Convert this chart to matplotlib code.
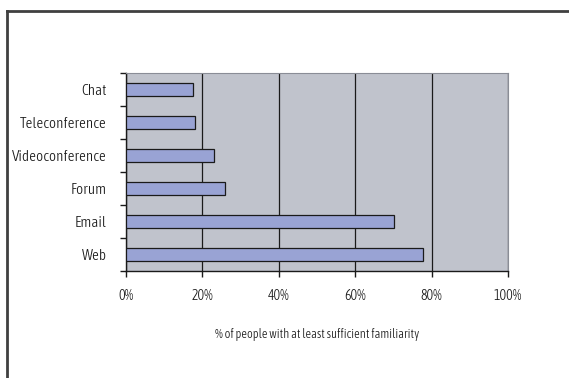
import matplotlib.pyplot as plt
import matplotlib.ticker as ticker
from matplotlib.lines import Line2D
from matplotlib import font_manager

categories = ["Web", "Email", "Forum", "Videoconference", "Teleconference", "Chat"]
familiarity = [77.8, 70.2, 25.8, 23.0, 18.1, 17.6]
xticks = [0, 20, 40, 60, 80, 100]

# pick a narrow face if one is installed (the original uses a narrow, light font)
narrow = [f.fname for f in font_manager.fontManager.ttflist
          if ("Condensed" in f.fname or "Narrow" in f.fname)
          and not any(w in f.fname for w in ("Bold", "Oblique", "Italic", "Black",
                                              "Medium", "Semi", "Thin", "Extra"))]
light = sorted(p for p in narrow if "Light" in p)
regular = sorted(p for p in narrow if "Light" not in p)
font_path = (light or regular or [None])[0]
if font_path:
    label_font = font_manager.FontProperties(fname=font_path)
else:
    label_font = font_manager.FontProperties(family="Lato")

fig = plt.figure(figsize=(5.69, 3.78), dpi=100)
# outer frame: only the left and top edges fall inside the image
fx = 7 / 569
fy = 1 - 10.5 / 378
fig.lines.append(Line2D([fx, fx], [0, fy], transform=fig.transFigure,
                        color="#404040", linewidth=2.0))
fig.lines.append(Line2D([fx, 1], [fy, fy], transform=fig.transFigure,
                        color="#404040", linewidth=2.0))

ax = fig.add_axes([126 / 569, 1 - 271 / 378, (508 - 126) / 569, (271 - 73) / 378])
ax.set_facecolor("#c0c3cc")

y = list(range(len(categories)))
ax.barh(y, familiarity, height=0.38, color="#99a3d4", edgecolor="#1a1a1a",
        linewidth=0.9, zorder=3)

ax.set_xlim(0, 100)
ax.set_ylim(-0.5, len(categories) - 0.5)
ax.set_xticks(xticks)
ax.set_xticklabels([f"{t}%" for t in xticks])
ax.xaxis.grid(True, color="#1a1a1a", linewidth=0.9, zorder=1)

ax.set_yticks(y)
ax.set_yticklabels(categories)
ax.tick_params(axis="y", which="major", length=0, pad=14)
ax.yaxis.set_minor_locator(ticker.FixedLocator([i + 0.5 for i in range(-1, len(categories))]))
ax.tick_params(axis="y", which="minor", length=4, width=1, color="#1a1a1a", direction="out")
ax.tick_params(axis="x", length=4, width=1, color="#1a1a1a", direction="out", pad=9)

for lab in ax.get_yticklabels():
    lab.set_fontproperties(label_font)
    lab.set_fontsize(10.9 if font_path else 8.8)
    lab.set_color("#1a1a1a")
for lab in ax.get_xticklabels():
    lab.set_fontproperties(label_font)
    lab.set_fontsize(10.0 if font_path else 8.0)
    lab.set_color("#1a1a1a")

for s in ["left", "bottom"]:
    ax.spines[s].set_color("#1a1a1a")
    ax.spines[s].set_linewidth(1.0)
for s in ["top", "right"]:
    ax.spines[s].set_color("#8a8d96")
    ax.spines[s].set_linewidth(0.8)

ax.set_xlabel("% of people with at least sufficient familiarity",
              fontproperties=label_font, fontsize=9.0 if font_path else 7.5,
              color="#1a1a1a", labelpad=18)

fig.savefig("out.png", dpi=100)
